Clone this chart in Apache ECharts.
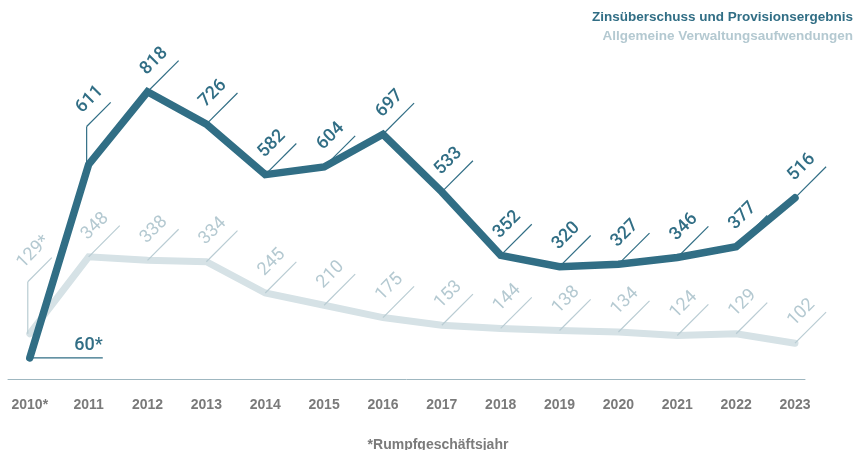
<!DOCTYPE html>
<html>
<head>
<meta charset="utf-8">
<script src="https://cdn.jsdelivr.net/npm/echarts@6/dist/echarts.min.js"></script>
<style>
* { margin: 0; padding: 0; }
html, body { background: #fff; }
#main { width: 859px; height: 450px; }
</style>
</head>
<body>
<div id="main"></div>
<script>
// Daten
var jahre = ['2010*', '2011', '2012', '2013', '2014', '2015', '2016', '2017', '2018', '2019', '2020', '2021', '2022', '2023'];
var zinsProvision = [60, 611, 818, 726, 582, 604, 697, 533, 352, 320, 327, 346, 377, 516];
var verwaltung = [129, 348, 338, 334, 245, 210, 175, 153, 144, 138, 134, 124, 129, 102];
var serienNamen = ['Zinsüberschuss und Provisionsergebnis', 'Allgemeine Verwaltungsaufwendungen'];
var fussnote = '*Rumpfgeschäftsjahr';

var dunkel = '#316e85';
var hell = '#d6e2e6';
var hellText = '#b4c9d1';
var schrift = "'Liberation Sans', Arial, sans-serif";

function punkte(werte) {
  return werte.map(function (v, i) { return [i, v]; });
}

// Sonderfälle der Beschriftungslinien (Index -> Art)
var sonderDunkel = { 0: 'flach', 1: 'hoch' };
var sonderHell = { 0: 'hoch' };

function labelRenderer(farbeLinie, farbeText, sonder, gewicht) {
  return function (params, api) {
    var i = params.dataIndex;
    var p = api.coord([api.value(0), api.value(1)]);
    var text = api.value(1) + (i === 0 ? '*' : '');
    var font = gewicht + ' 18px Roboto, "Liberation Sans", sans-serif';
    var art = sonder[i];
    if (art === 'flach') {
      return {
        type: 'group', x: p[0], y: p[1],
        children: [
          { type: 'line', shape: { x1: 0, y1: 0, x2: 73, y2: 0 }, style: { stroke: farbeLinie, lineWidth: 1.2 } },
          { type: 'text', x: 73, y: -3, style: { text: text, fill: farbeText, font: font, textAlign: 'right', textVerticalAlign: 'bottom' } }
        ]
      };
    }
    var hoehe = art === 'hoch' ? (i === 0 ? 52 : 38) : 0;
    var laenge = art === 'hoch' ? 34 : 44;
    var diag = {
      type: 'group', x: 0, y: -hoehe, rotation: Math.PI / 4,
      children: [
        { type: 'line', shape: { x1: 0, y1: 0, x2: laenge, y2: 0 }, style: { stroke: farbeLinie, lineWidth: 1.2 } },
        { type: 'text', x: hoehe ? 6 : 11, y: -8, style: { text: text, fill: farbeText, font: font, textAlign: 'left', textVerticalAlign: 'bottom' } }
      ]
    };
    var kinder = [diag];
    if (hoehe) {
      kinder.unshift({ type: 'line', shape: { x1: 0, y1: 0, x2: 0, y2: -hoehe }, style: { stroke: farbeLinie, lineWidth: 1.2 } });
    }
    return { type: 'group', x: p[0] - (hoehe ? 2 : 0), y: p[1], children: kinder };
  };
}

var chart = echarts.init(document.getElementById('main'));
chart.setOption({
  animation: false,
  title: [
    { text: serienNamen[0], right: 1, top: 5, textStyle: { color: dunkel, fontSize: 13.5, fontWeight: 'bold', fontFamily: schrift } },
    { text: serienNamen[1], right: 1, top: 24, textStyle: { color: hellText, fontSize: 13.5, fontWeight: 'bold', fontFamily: schrift } },
    { text: fussnote, left: 433, top: 433, textAlign: 'center', textStyle: { color: '#7b7b7b', fontSize: 14, fontWeight: 'bold', fontFamily: schrift } }
  ],
  grid: { left: 8, right: 54, top: 63, bottom: 71 },
  xAxis: {
    type: 'value',
    min: -0.37,
    max: 13.17,
    axisLine: { show: true, onZero: false, lineStyle: { color: '#9fb7c0', width: 1 } },
    axisTick: { show: false },
    splitLine: { show: false },
    axisLabel: {
      customValues: jahre.map(function (j, i) { return i; }),
      formatter: function (v) { return jahre[Math.round(v)]; },
      color: '#7a7a7a',
      fontSize: 14,
      fontWeight: 'bold',
      fontFamily: schrift,
      margin: 19
    }
  },
  yAxis: {
    type: 'value', min: 0, max: 900,
    show: false
  },
  series: [
    {
      name: serienNamen[1], type: 'line', data: punkte(verwaltung), showSymbol: false, z: 2,
      lineStyle: { color: hell, width: 7, cap: 'round', join: 'miter' }
    },
    {
      name: serienNamen[0], type: 'line', data: punkte(zinsProvision), showSymbol: false, z: 3,
      lineStyle: { color: dunkel, width: 7.5, cap: 'round', join: 'miter' }
    },
    {
      type: 'custom', data: punkte(verwaltung), z: 4, clip: false, silent: true,
      renderItem: labelRenderer('#b9ccd3', hellText, sonderHell, 'normal')
    },
    {
      type: 'custom', data: punkte(zinsProvision), z: 5, clip: false, silent: true,
      renderItem: labelRenderer(dunkel, dunkel, sonderDunkel, '500')
    }
  ]
});
</script>
</body>
</html>
